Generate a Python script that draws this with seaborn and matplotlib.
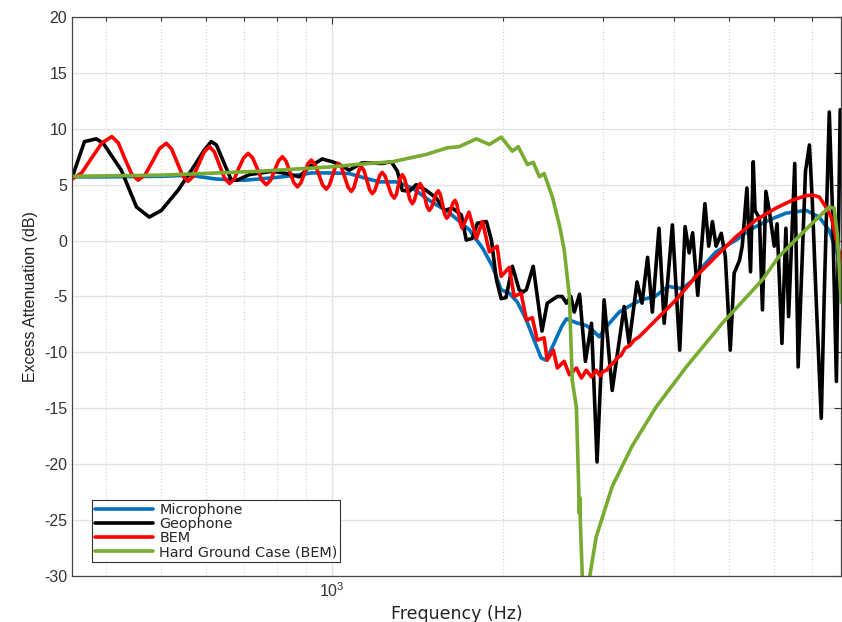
import numpy as np
import pandas as pd
import matplotlib
matplotlib.use("Agg")
import matplotlib.pyplot as plt
import seaborn as sns
from matplotlib.ticker import LogLocator, NullFormatter

# Excess attenuation spectra (frequency in Hz, level in dB)
mic_f = [348, 400, 500, 560, 625, 700, 780, 850, 920, 1000, 1070, 1140, 1210,
         1296, 1383, 1481, 1606, 1743, 1838, 1914, 1983, 2049, 2117, 2196, 2266,
         2332, 2380, 2441, 2533, 2584, 2690, 2800, 2870, 2950, 3050, 3200, 3350,
         3500, 3700, 3900, 4130, 4300, 4440, 4740, 5140, 5490, 5880, 6290, 6830,
         7200, 7500, 7750, 7870]
mic_db = [5.7, 5.7, 5.75, 5.85, 5.5, 5.4, 5.6, 5.8, 6.05, 6.05, 6.0, 5.6, 5.25,
          5.25, 4.7, 3.6, 2.5, 0.95, -0.66, -2.3, -4.4, -4.7, -5.5, -7.1, -8.9,
          -10.5, -10.7, -9.5, -7.7, -7.0, -7.35, -7.6, -8.0, -8.6, -7.6, -6.4, -5.8,
          -5.3, -5.0, -4.1, -4.3, -3.6, -2.6, -1.0, 0.05, 1.1, 1.84, 2.45, 2.7,
          2.1, 0.9, -1.2, -2.5]

geo_f = [348, 366, 384, 395, 425, 452, 476, 500, 535, 565, 595, 612, 625, 664,
         680, 714, 784, 830, 875, 911, 960, 1000, 1030, 1071, 1129, 1224, 1270,
         1302, 1328, 1366, 1405, 1463, 1524, 1575, 1627, 1687, 1721, 1764, 1800,
         1868, 1906, 1945, 1983, 2022, 2075, 2133, 2165, 2196, 2258, 2340, 2390,
         2490, 2540, 2584, 2630, 2667, 2725, 2790, 2860, 2925, 3010, 3110, 3265,
         3330, 3440, 3510, 3590, 3660, 3760, 3840, 3970, 4090, 4180, 4250, 4310,
         4400, 4530, 4600, 4670, 4740, 4840, 4920, 5020, 5100, 5210, 5270, 5370,
         5450, 5510, 5550, 5650, 5720, 5800, 5880, 6000, 6070, 6190, 6290, 6360,
         6520, 6610, 6810, 6920, 7000, 7120, 7260, 7350, 7500, 7600, 7720, 7840]
geo_db = [5.6, 8.85, 9.1, 8.7, 6.3, 3.0, 2.1, 2.7, 4.5, 6.3, 8.1, 8.85, 8.55, 5.4,
          5.4, 5.9, 6.2, 6.0, 5.7, 6.6, 7.3, 7.05, 6.8, 6.3, 6.95, 6.9, 7.05,
          6.2, 4.5, 4.4, 5.0, 4.5, 3.8, 2.7, 2.9, 2.3, 0.05, 0.2, 1.55,
          1.7, 0.05, -3.5, -5.2, -5.1, -2.3, -4.4, -4.6, -4.4, -2.3, -8.1, -5.6,
          -5.0, -5.0, -5.6, -5.0, -6.4, -4.8, -10.8, -7.4, -19.8, -5.3, -13.4, -5.9,
          -9.2, -3.7, -5.6, -1.5, -6.4, 1.1, -7.4, 1.4, -9.8, 1.25, -1.1, 0.7,
          -4.9, 3.3, -0.5, 1.7, -0.5, 0.65, -1.4, -9.8, -2.9, -1.8, -0.5, 4.7,
          -2.8, 7.05, 2.7, 2.0, -6.2, 4.4, 2.7, -0.5, 1.5, -9.2, 1.1, -6.8,
          6.9, -11.3, 6.2, 8.55, 3.6, -5.9, -15.9, -4.7, 11.5, 2.5, -12.6, 11.7]

bem_f = [348, 362, 377, 393, 409, 420, 431, 443, 455, 468, 482, 496, 510, 521,
         533, 545, 557, 569, 582, 595, 608, 620, 633, 646, 659, 672, 684, 698,
         711, 724, 738, 751, 765, 778, 791, 804, 817, 829, 842, 855, 868, 880,
         893, 905, 918, 932, 947, 961, 976, 988, 1000, 1012, 1025, 1038, 1052,
         1066, 1080, 1091, 1102, 1114, 1125, 1137, 1150, 1163, 1176, 1188, 1200,
         1212, 1224, 1239, 1254, 1270, 1285, 1296, 1306, 1317, 1328, 1341, 1355,
         1369, 1383, 1394, 1405, 1417, 1428, 1441, 1454, 1468, 1481, 1495, 1509,
         1523, 1537, 1550, 1563, 1577, 1590, 1604, 1617, 1631, 1645, 1657, 1669,
         1682, 1694, 1740, 1793, 1838, 1890, 1951, 1983, 2049, 2090, 2150, 2196,
         2250, 2295, 2360, 2390, 2450, 2490, 2560, 2615, 2690, 2745, 2800, 2860,
         2915, 2960, 3000, 3040, 3080, 3120, 3170, 3220, 3280, 3340, 3400, 3470,
         3715, 4030, 4370, 4740, 5140, 5570, 6040, 6450, 6800, 7000, 7200, 7400,
         7560, 7720, 7870]
bem_db = [5.5, 6.06, 7.4, 8.74, 9.3, 8.73, 7.35, 5.97, 5.4, 5.88, 7.05, 8.22, 8.7, 8.2,
          7.0, 5.8, 5.3, 5.75, 6.85, 7.95, 8.4, 7.92, 6.75, 5.58, 5.1, 5.5, 6.45, 7.4,
          7.8, 7.39, 6.4, 5.41, 5.0, 5.37, 6.25, 7.13, 7.5, 7.1, 6.15, 5.2, 4.8, 5.15,
          6.0, 6.85, 7.2, 6.82, 5.9, 4.98, 4.6, 4.94, 5.75, 6.56, 6.9, 6.53, 5.65,
          4.77, 4.4, 4.72, 5.5, 6.28, 6.6, 6.25, 5.4, 4.55, 4.2, 4.48, 5.15,
          5.82, 6.1, 5.76, 4.95, 4.14, 3.8, 4.11, 4.85, 5.59, 5.9, 5.52, 4.6,
          3.68, 3.3, 3.56, 4.2, 4.84, 5.1, 4.75, 3.9, 3.05, 2.7, 2.96, 3.58,
          4.19, 4.45, 4.09, 3.23, 2.36, 2.0, 2.23, 2.8, 3.37, 3.6, 3.23, 2.35,
          1.47, 1.1, 2.55, 0.2, 1.7, -1.0, -0.5, -3.2, -2.4, -5.0, -4.7, -7.1,
          -6.9, -8.9, -8.7, -10.7, -9.8, -11.4, -10.8, -12.0, -11.4, -12.3, -11.6, -12.2,
          -11.6, -12.1, -11.7, -11.6, -11.2, -11.0, -10.5, -10.3, -9.6, -9.4, -8.9, -8.6,
          -7.1, -5.3, -3.2, -1.4, 0.35, 1.84, 2.9, 3.6, 4.0, 4.07, 3.9, 3.0,
          2.1, 0.05, -1.8]

hard_f = [348, 500, 744, 1000, 1100, 1275, 1463, 1594, 1673, 1793, 1890, 1983,
          2075, 2125, 2205, 2258, 2316, 2360, 2441, 2513, 2560, 2615, 2645, 2690,
          2715, 2722, 2728, 2735, 2755, 2790, 2840, 2915, 3110, 3370, 3715, 4200,
          4860, 5720, 6120, 7000, 7500, 7650, 7750, 7870]
hard_db = [5.75, 5.85, 6.2, 6.6, 6.8, 7.05, 7.7, 8.3, 8.4, 9.1, 8.6, 9.25,
           8.0, 8.4, 6.8, 7.0, 5.7, 6.0, 3.9, 1.3, -0.8, -5.0, -12.5, -14.9,
           -22.0, -24.4, -23.0, -25.5, -30.0, -40.0, -30.0, -26.5, -22.0, -18.4, -14.9, -11.3,
           -7.4, -3.5, -1.4, 1.55, 3.0, 2.9, 0.5, -5.5]

series = [
    ("Microphone", mic_f, mic_db, "#0072BD"),
    ("Geophone", geo_f, geo_db, "#000000"),
    ("BEM", bem_f, bem_db, "#FF0000"),
    ("Hard Ground Case (BEM)", hard_f, hard_db, "#77AC30"),
]

sns.set_style("white")
plt.rcParams["font.family"] = ["Liberation Sans", "DejaVu Sans"]
plt.rcParams["axes.unicode_minus"] = False

fig = plt.figure(figsize=(8.42, 6.22), dpi=100)
ax = fig.add_axes([0.0855, 0.074, 0.9135, 0.8987])

for name, f, db, col in series:
    df = pd.DataFrame({"Frequency": f, "EA": db})
    sns.lineplot(data=df, x="Frequency", y="EA", ax=ax, color=col, lw=2.6,
                 label=name, sort=False, estimator=None)

ax.set_xscale("log")
ax.set_xlim(348, 7870)
ax.set_ylim(-30, 20)
ax.set_yticks(np.arange(-30, 21, 5))
ax.xaxis.set_major_locator(LogLocator(base=10, numticks=10))
ax.xaxis.set_minor_locator(LogLocator(base=10, subs=np.arange(2, 10), numticks=20))
ax.xaxis.set_minor_formatter(NullFormatter())

ax.grid(True, which="major", color="#e3e3e3", lw=1.0, ls="-")
ax.grid(True, which="minor", axis="x", color="#d0d0d0", lw=0.8, ls=(0, (1, 2)))
ax.set_axisbelow(True)

for s in ax.spines.values():
    s.set_color("#444444")
    s.set_linewidth(0.9)

ax.tick_params(which="both", direction="in", top=True, right=True,
               colors="#333333", labelsize=11.5, width=0.8)
ax.tick_params(which="major", length=5)
ax.tick_params(which="minor", length=3)

ax.set_xlabel("Frequency (Hz)", fontsize=12.5, color="#222222",
              family=["DejaVu Sans"])
ax.set_ylabel("Excess Attenuation (dB)", fontsize=11.5, color="#222222")

leg = ax.legend(loc="lower left", bbox_to_anchor=(0.026, 0.025), borderaxespad=0,
                prop={"family": "DejaVu Sans", "size": 10.4},
                handlelength=4.0, labelspacing=0.0,
                borderpad=0.2, handletextpad=0.45, frameon=True, fancybox=False)
leg.get_frame().set_edgecolor("#333333")
leg.get_frame().set_linewidth(0.8)
leg.get_frame().set_alpha(1)

fig.savefig("out.png", dpi=100)
